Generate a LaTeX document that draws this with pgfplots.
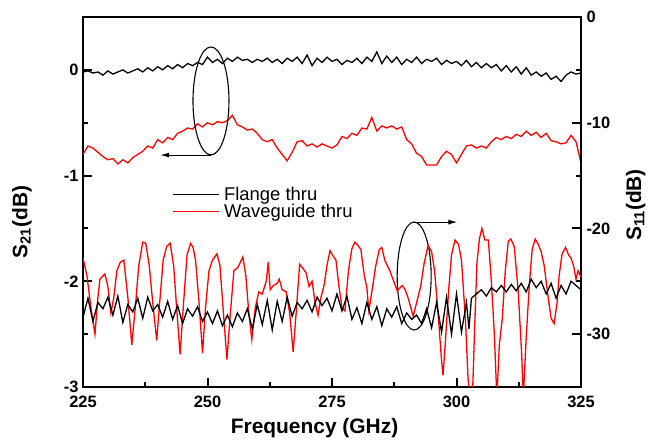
\documentclass[border=0pt]{standalone}
\usepackage{fontspec}
\setmainfont{Liberation Sans}
\usepackage{pgfplots}
\pgfplotsset{compat=1.18}
\usetikzlibrary{arrows.meta}

\pgfplotstableread{
x y
225 -0.02
226 -0.01
227 -0.03
228 -0.02
229 -0.05
230 -0.01
231 -0.04
232 -0.02
233 0.00
234 -0.03
235 -0.01
236 0.01
237 -0.02
238 0.02
239 -0.01
240 0.03
241 0.00
242 0.04
243 0.01
244 0.05
245 0.02
246 0.06
247 0.04
248 0.07
249 0.05
250 0.12
251 0.07
252 0.10
253 0.06
254 0.11
255 0.08
256 0.12
257 0.09
258 0.10
259 0.07
260 0.10
261 0.08
262 0.11
263 0.07
264 0.10
265 0.06
266 0.11
267 0.08
268 0.12
269 0.06
270 0.14
271 0.04
272 0.11
273 0.07
274 0.12
275 0.08
276 0.10
277 0.05
278 0.09
279 0.07
280 0.11
281 0.06
282 0.12
283 0.08
284 0.17
285 0.06
286 0.13
287 0.07
288 0.12
289 0.05
290 0.10
291 0.07
292 0.12
293 0.06
294 0.10
295 0.08
296 0.11
297 0.05
298 0.09
299 0.06
300 0.08
301 0.04
302 0.09
303 0.03
304 0.07
305 0.02
306 0.06
307 0.02
308 0.05
309 -0.01
310 0.04
311 -0.02
312 0.03
313 -0.04
314 0.02
315 -0.05
316 -0.02
317 -0.06
318 -0.03
319 -0.09
320 -0.06
321 -0.11
322 -0.05
323 -0.02
324 -0.04
325 -0.03
}\flangeSxxi

\pgfplotstableread{
x y
225 -0.80
226 -0.72
227 -0.74
228 -0.78
229 -0.82
230 -0.85
231 -0.84
232 -0.89
233 -0.85
234 -0.88
235 -0.83
236 -0.80
237 -0.77
238 -0.72
239 -0.74
240 -0.66
241 -0.69
242 -0.64
243 -0.66
244 -0.60
245 -0.58
246 -0.55
247 -0.56
248 -0.51
249 -0.54
250 -0.50
251 -0.52
252 -0.49
253 -0.50
254 -0.48
255 -0.43
256 -0.52
257 -0.54
258 -0.57
259 -0.56
260 -0.60
261 -0.66
262 -0.68
263 -0.66
264 -0.74
265 -0.80
266 -0.86
267 -0.78
268 -0.68
269 -0.67
270 -0.72
271 -0.70
272 -0.73
273 -0.70
274 -0.72
275 -0.74
276 -0.71
277 -0.63
278 -0.65
279 -0.60
280 -0.62
281 -0.55
282 -0.56
283 -0.45
284 -0.58
285 -0.53
286 -0.55
287 -0.53
288 -0.56
289 -0.54
290 -0.66
291 -0.70
292 -0.79
293 -0.82
294 -0.90
295 -0.90
296 -0.90
297 -0.82
298 -0.77
299 -0.80
300 -0.88
301 -0.80
302 -0.72
303 -0.71
304 -0.74
305 -0.72
306 -0.74
307 -0.68
308 -0.64
309 -0.66
310 -0.63
311 -0.65
312 -0.61
313 -0.63
314 -0.58
315 -0.62
316 -0.59
317 -0.64
318 -0.60
319 -0.67
320 -0.68
321 -0.70
322 -0.69
323 -0.62
324 -0.68
325 -0.88
}\wgSxxi

\pgfplotstableread{
x y
225 -28.4
226 -26.6
227 -28.8
228 -27.0
229 -27.6
230 -26.5
231 -28.2
232 -26.4
233 -28.9
234 -27.2
235 -27.9
236 -26.6
237 -28.5
238 -26.5
239 -27.8
240 -27.2
241 -28.4
242 -26.9
243 -28.6
244 -27.3
245 -29.0
246 -27.6
247 -28.3
248 -27.4
249 -28.8
250 -27.9
251 -29.0
252 -27.8
253 -29.2
254 -28.2
255 -29.3
256 -28.0
257 -28.8
258 -27.6
259 -29.5
260 -27.2
261 -29.1
262 -26.8
263 -29.6
264 -26.9
265 -28.8
266 -26.5
267 -28.3
268 -27.0
269 -27.6
270 -26.8
271 -27.9
272 -26.5
273 -27.3
274 -26.6
275 -27.8
276 -26.2
277 -27.8
278 -26.4
279 -28.6
280 -27.5
281 -29.0
282 -27.0
283 -28.6
284 -27.4
285 -29.2
286 -27.6
287 -28.4
288 -27.4
289 -29.0
290 -28.0
291 -28.6
292 -28.2
293 -29.0
294 -27.6
295 -29.4
296 -27.0
297 -29.8
298 -26.5
299 -30.0
300 -26.2
301 -29.8
302 -27.0
302.5 -29.5
303 -26.6
304 -26.2
305 -25.8
306 -26.4
307 -25.6
308 -26.0
309 -25.4
310 -26.0
311 -25.3
312 -25.9
313 -25.2
314 -26.0
315 -24.8
316 -25.6
317 -25.0
318 -26.2
319 -25.2
320 -26.6
321 -25.4
322 -26.2
323 -25.0
324 -25.4
325 -25.8
}\flangeSxi

\pgfplotstableread{
x y
225.0 -22.8
225.8 -24.5
226.6 -27.5
227.4 -30.0
228.0 -26.5
228.4 -24.8
229.4 -24.3
230.0 -25.5
230.6 -28.0
231.2 -26.5
231.8 -24.0
232.5 -23.2
233.2 -23.0
234.0 -26.5
234.8 -31.0
235.5 -27.5
236.2 -23.5
237.0 -21.3
237.6 -21.4
238.3 -23.5
239.0 -27.0
239.8 -30.6
240.4 -27.0
241.1 -23.0
241.8 -21.7
242.5 -21.4
243.2 -23.5
243.8 -27.5
244.5 -31.9
245.2 -27.0
245.9 -22.5
246.6 -21.4
247.1 -21.8
247.6 -23.0
248.3 -27.0
249.0 -31.8
249.6 -27.5
250.3 -24.0
251.0 -23.0
251.9 -22.4
252.5 -23.5
253.2 -28.0
253.9 -32.4
254.6 -28.0
255.3 -24.0
256.1 -23.7
256.6 -23.2
257.1 -22.7
257.7 -24.5
258.3 -28.0
258.9 -30.5
259.6 -27.5
260.3 -26.0
261.0 -26.2
261.8 -25.0
262.2 -23.2
262.6 -25.8
263.2 -25.4
264.0 -25.2
264.4 -24.8
265.0 -25.8
265.8 -26.0
266.5 -28.0
267.2 -31.7
267.8 -28.0
268.5 -23.4
269.2 -23.8
269.8 -24.2
270.4 -25.5
271.0 -25.0
271.6 -27.0
272.2 -28.2
272.8 -26.5
273.4 -25.4
274.0 -23.5
274.6 -22.1
275.2 -22.6
275.8 -23.0
276.4 -25.5
277.0 -27.5
277.6 -27.8
278.3 -24.0
279.0 -21.9
279.6 -21.3
280.2 -21.6
280.8 -22.0
281.5 -24.5
282.0 -25.6
282.4 -27.8
283.0 -26.0
283.8 -23.5
284.5 -22.0
285.0 -21.8
285.6 -23.0
286.6 -24.0
287.4 -25.0
288.1 -25.9
289.1 -25.4
289.7 -25.8
290.3 -26.6
291.3 -28.3
292.0 -27.0
292.8 -25.5
293.5 -23.3
294.3 -21.6
295.0 -22.2
295.6 -24.0
296.3 -28.0
297.0 -32.5
297.3 -33.9
297.8 -30.5
298.4 -26.0
299.0 -22.5
299.7 -21.1
300.4 -21.5
301.0 -23.0
301.8 -28.7
302.3 -34.0
302.6 -36.0
303.2 -36.0
303.6 -30.0
304.1 -23.3
304.6 -21.0
305.1 -20.0
305.7 -21.1
306.4 -21.1
307.0 -25.0
307.6 -30.0
308.1 -36.0
308.6 -31.0
309.2 -28.5
309.8 -24.0
310.4 -21.2
310.9 -21.0
311.6 -21.7
312.4 -26.0
313.1 -32.0
313.4 -36.0
314.0 -30.3
314.6 -25.5
315.2 -22.0
315.8 -21.0
316.4 -21.5
317.0 -22.2
317.6 -23.5
318.4 -26.5
319.0 -28.5
319.6 -29.0
320.2 -27.0
320.6 -24.5
321.2 -22.4
321.9 -21.8
322.5 -22.5
323.0 -22.8
323.5 -23.5
324.0 -24.8
324.4 -24.0
325.0 -24.6
}\wgSxi

\begin{document}
\begin{tikzpicture}
\pgfplotsset{
  every axis/.append style={
    scale only axis, width=498bp, height=370bp,
    xmin=225, xmax=325,
    tick align=inside,
    major tick length=9bp, minor tick length=5bp,
    every tick/.style={line width=2bp, black},
    axis line style={line width=2.5bp},
    tick label style={font=\fontsize{16.5}{18}\selectfont\bfseries},
    label style={font=\fontsize{21}{24}\selectfont\bfseries},
    clip=true,
  },
}
\begin{axis}[
  ymin=-3, ymax=0.5,
  xtick={225,250,275,300,325},
  xticklabels={225,250,275,300,325},
  xticklabel style={yshift=-6bp},
  ytick={-3,-2,-1,0},
  yticklabels={-3,-2,-1,0},
  yticklabel style={xshift=-1bp},
  minor x tick num=1, minor y tick num=1,
  xtick pos=bottom, ytick pos=left,
  xlabel={Frequency (GHz)},
  xlabel style={at={(axis description cs:0.465,0)}, anchor=base, yshift=-46bp},
  ylabel={S\textsubscript{21}(dB)},
  ylabel style={at={(axis description cs:-0.1225,0.446)}, anchor=center},
  legend style={at={(axis description cs:0.18,0.544)}, anchor=north west, draw=none, fill=none,
    font=\fontsize{18.5}{21}\selectfont, inner sep=0pt, row sep=0pt,
    nodes={inner xsep=4bp, inner ysep=1bp}},
  legend cell align=left,
  legend image code/.code={\draw[mark repeat=2,mark phase=2,#1] plot coordinates {(0bp,0bp) (23bp,0bp) (46bp,0bp)};},
]
\addplot[black, line width=1.3bp] table[x=x,y=y] {\flangeSxxi};
\addlegendentry{Flange thru}
\addplot[red, line width=1.3bp] table[x=x,y=y] {\wgSxxi};
\addlegendentry{Waveguide thru}
\draw[line width=1.1bp] (axis cs:250.7,-0.294) ellipse [x radius=18bp, y radius=54bp];
\draw[line width=1.1bp, -{Latex[length=9bp,width=5bp]}] (axis cs:250.7,-0.806) -- (axis cs:240.5,-0.806);
\draw[line width=1.1bp] (axis cs:291.5,-1.95) ellipse [x radius=17bp, y radius=54bp];
\draw[line width=1.1bp, -{Latex[length=9bp,width=5bp]}] (axis cs:291.5,-1.44) -- (axis cs:300.2,-1.44);
\end{axis}
\begin{axis}[
  ymin=-35, ymax=0,
  axis x line=none, axis y line*=right,
  ytick={-30,-20,-10,0},
  yticklabels={-30,-20,-10,0},
  yticklabel style={xshift=2bp},
  minor y tick num=1,
  ylabel={S\textsubscript{11}(dB)},
  ylabel style={at={(axis description cs:1.110,0.492)}, anchor=center},
]
\addplot[red, line width=1.3bp] table[x=x,y=y] {\wgSxi};
\addplot[black, line width=1.3bp] table[x=x,y=y] {\flangeSxi};
\end{axis}
\pgfresetboundingbox
\path[use as bounding box] (-83bp,-57bp) rectangle (571bp,387bp);
\end{tikzpicture}
\end{document}
